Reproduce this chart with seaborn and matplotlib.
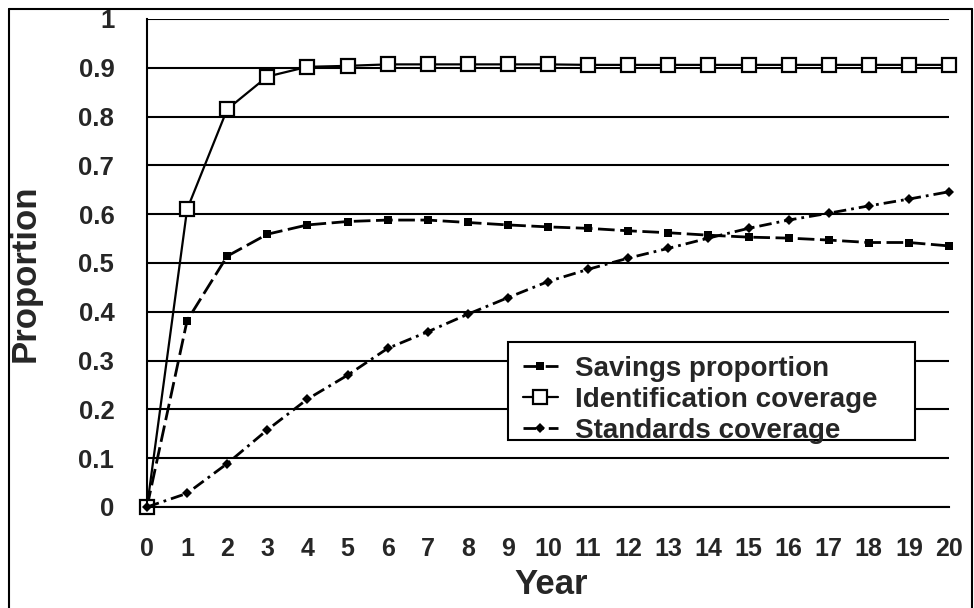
import matplotlib
matplotlib.use("Agg")
import matplotlib.pyplot as plt
import seaborn as sns
from matplotlib.lines import Line2D
from matplotlib.patches import Rectangle

years = list(range(0, 21))
savings = [0.0, 0.382, 0.514, 0.559, 0.578, 0.585, 0.588, 0.588, 0.583, 0.578, 0.574,
           0.571, 0.566, 0.562, 0.557, 0.553, 0.551, 0.547, 0.542, 0.542, 0.535]
identification = [0.0, 0.610, 0.815, 0.882, 0.902, 0.904, 0.907, 0.907, 0.907, 0.907, 0.907,
                  0.906, 0.906, 0.906, 0.906, 0.906, 0.906, 0.906, 0.906, 0.906, 0.906]
standards = [0.0, 0.028, 0.089, 0.158, 0.221, 0.270, 0.325, 0.359, 0.395, 0.429, 0.462,
             0.487, 0.510, 0.530, 0.551, 0.571, 0.588, 0.602, 0.617, 0.631, 0.646]
y_ticks = [0, 0.1, 0.2, 0.3, 0.4, 0.5, 0.6, 0.7, 0.8, 0.9, 1]
y_tick_labels = ["0", "0.1", "0.2", "0.3", "0.4", "0.5", "0.6", "0.7", "0.8", "0.9", "1"]

sns.set_style("white")
plt.rcParams["font.family"] = ["Liberation Sans", "DejaVu Sans"]
plt.rcParams["font.weight"] = "bold"

fig = plt.figure(figsize=(9.74, 6.08), dpi=100)
ax = fig.add_axes([147 / 974, 1 - 507 / 608, 802 / 974, 488 / 608])

sns.lineplot(x=years, y=savings, ax=ax, color="black", lw=2,
             linestyle=(0, (6, 2)), marker="s", markersize=5.5,
             markeredgewidth=0, label="Savings proportion", clip_on=False)
sns.lineplot(x=years, y=identification, ax=ax, color="black", lw=1.6,
             marker="s", markersize=10.5, markerfacecolor="white",
             markeredgecolor="black", markeredgewidth=1.6,
             label="Identification coverage", clip_on=False)
sns.lineplot(x=years, y=standards, ax=ax, color="black", lw=2,
             linestyle=(0, (4.5, 1.8, 1, 1.8)), marker="D", markersize=5.5,
             markeredgewidth=0, label="Standards coverage", clip_on=False)

ax.set_xlim(0, 20)
ax.set_ylim(0, 1)
ax.set_xticks(years)
ax.set_yticks(y_ticks)
ax.set_yticklabels(y_tick_labels)
ax.yaxis.grid(True, color="black", lw=1.5)
ax.xaxis.grid(False)
ax.set_axisbelow(True)

for s in ["top", "right"]:
    ax.spines[s].set_visible(False)
for s in ["left", "bottom"]:
    ax.spines[s].set_color("black")
    ax.spines[s].set_linewidth(1.5)

ax.tick_params(axis="x", direction="inout", length=11, width=1.5, pad=16,
               labelsize=18, color="black")
ax.tick_params(axis="y", direction="out", length=6.5, width=1.5, pad=17,
               labelsize=18.5, color="black")
for lab in ax.get_xticklabels() + ax.get_yticklabels():
    lab.set_fontweight("bold")

ax.set_xlabel("Year", fontsize=25, fontweight="bold")
ax.set_ylabel("Proportion", fontsize=25, fontweight="bold")
ax.xaxis.label.set_verticalalignment("center")
ax.yaxis.label.set_verticalalignment("center")
ax.xaxis.set_label_coords(0.504, -0.158)
ax.yaxis.set_label_coords(-0.152, 0.48)

# legend box drawn separately so its height matches the scan
ax.add_patch(Rectangle((0.450, 0.137), 0.508, 0.202, transform=ax.transAxes,
                       facecolor="white", edgecolor="black", lw=1.5, zorder=4))
leg = ax.legend(loc="upper left", bbox_to_anchor=(0.469, 0.309),
                prop={"size": 20, "weight": "bold"}, frameon=False,
                borderpad=0, labelspacing=0.18, handlelength=1.25,
                handletextpad=0.6, borderaxespad=0)
leg.set_zorder(5)

# outer frame of the scanned figure
for xs, ys in [([9 / 974, 9 / 974], [0, 1 - 9 / 608]),
               ([9 / 974, 972 / 974], [1 - 9 / 608, 1 - 9 / 608]),
               ([972 / 974, 972 / 974], [0, 1 - 9 / 608])]:
    fig.add_artist(Line2D(xs, ys, color="black", lw=1.5))

fig.savefig("out.png", dpi=100)
